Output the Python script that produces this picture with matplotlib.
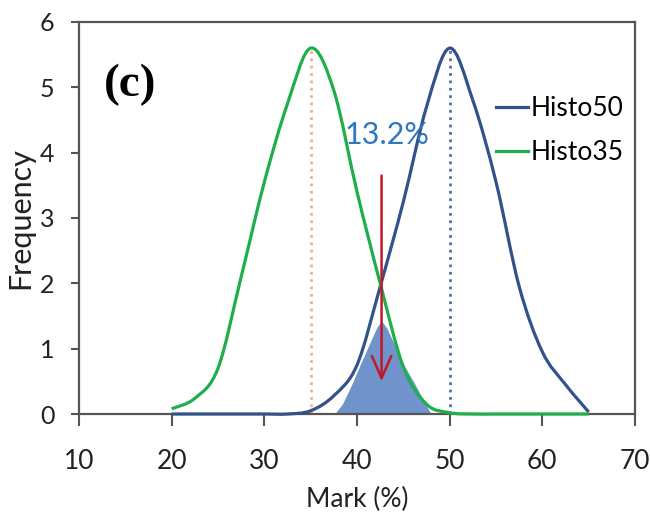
import numpy as np
import matplotlib
matplotlib.use("Agg")
import matplotlib.pyplot as plt
from matplotlib.path import Path
from matplotlib.patches import PathPatch, FancyArrowPatch

plt.rcParams['font.family'] = ['Lato', 'DejaVu Sans']

# values
mark = [20, 22.5, 25, 27.5, 30, 32.5, 35, 37.5, 40, 42.5, 45, 47.5, 50,
        52.5, 55, 57.5, 60, 62.5, 65]
histo50 = [0, 0, 0, 0, 0, 0, 0.05, 0.28, 0.75, 1.95, 3.25, 4.7, 5.6,
           4.8, 3.55, 1.95, 0.95, 0.45, 0.03]
histo35 = [0.08, 0.24, 0.7, 2.1, 3.55, 4.75, 5.6, 4.95, 3.4, 2.0, 0.72, 0.15, 0.02,
           0, 0, 0, 0, 0, 0]

# overlap area (shaded)
overlap_x = [37.3, 38.5, 39.5, 40.5, 41.5, 42.2, 42.7, 43.3, 44.2, 45.2, 46.3, 47.3, 48.3]
overlap_y = [-0.07, 0.15, 0.45, 0.78, 1.1, 1.32, 1.42, 1.3, 1.02, 0.72, 0.45, 0.18, -0.07]

means = [35, 50]
peak = 5.6
arrow_x = 42.65
arrow_top = 3.65
arrow_tip = 0.5
overlap_label = "13.2%"

blue = '#33518a'
green = '#1fae4c'


def smooth_path(xs, ys):
    # Excel-like smoothed line (Catmull-Rom as cubic bezier)
    pts = np.column_stack([xs, ys]).astype(float)
    verts = [pts[0]]
    codes = [Path.MOVETO]
    n = len(pts)
    for i in range(n - 1):
        p0 = pts[i - 1] if i > 0 else pts[i]
        p1 = pts[i]
        p2 = pts[i + 1]
        p3 = pts[i + 2] if i + 2 < n else pts[i + 1]
        c1 = p1 + (p2 - p0) / 6
        c2 = p2 - (p3 - p1) / 6
        verts += [c1, c2, p2]
        codes += [Path.CURVE4] * 3
    return Path(verts, codes)


fig, ax = plt.subplots(figsize=(6.5, 5.23), dpi=100)
fig.subplots_adjust(left=0.1215, right=0.977, bottom=0.2084, top=0.958)

ax.fill(overlap_x, overlap_y, color='#7193cb', zorder=1, lw=0)

ax.plot([means[0], means[0]], [0, peak], ls=':', color='#f4b183', lw=2, zorder=2)
ax.plot([means[1], means[1]], [0, peak], ls=':', color='#5a6ea6', lw=2, zorder=2)

ax.add_patch(PathPatch(smooth_path(mark, histo50), fill=False, ec=blue, lw=2.3,
                       transform=ax.transData, zorder=3, clip_on=False))
ax.add_patch(PathPatch(smooth_path(mark, histo35), fill=False, ec=green, lw=2.3,
                       transform=ax.transData, zorder=3, clip_on=False))

# legend proxies
ax.plot([], [], color=blue, lw=2.3, label='Histo50')
ax.plot([], [], color=green, lw=2.3, label='Histo35')

ax.add_patch(FancyArrowPatch((arrow_x, arrow_top), (arrow_x, arrow_tip),
                             arrowstyle='->,head_length=0.8,head_width=0.35',
                             mutation_scale=20, color='#c0182a', lw=1.8, zorder=4,
                             shrinkA=0, shrinkB=0))

ax.text(43.2, 4.27, overlap_label, color='#2f77c0', fontsize=22, ha='center', va='center')
ax.text(15.5, 5.04, '(c)', family='Liberation Serif', fontweight='bold', fontsize=34,
        ha='center', va='center')

ax.set_xlim(10, 70)
ax.set_ylim(0, 6)
ax.set_xticks(range(10, 71, 10))
ax.set_yticks(range(0, 7))
ax.tick_params(axis='x', labelsize=19, colors='#222222', width=1.5, length=8.5, pad=17)
ax.tick_params(axis='y', labelsize=18, colors='#222222', width=1.5, length=5.8, pad=12)
ax.tick_params(axis='both', color='#555555')
for s in ax.spines.values():
    s.set_color('#555555')
    s.set_linewidth(1.6)

ax.set_xlabel('Mark (%)', fontsize=19, color='#222222', labelpad=9)
ax.set_ylabel('Frequency', fontsize=22, color='#222222', labelpad=4)

ax.legend(loc='upper left', bbox_to_anchor=(0.75, 0.81), frameon=False, fontsize=19,
          handlelength=1.2, handletextpad=0.1, borderpad=0, borderaxespad=0,
          labelspacing=0.7)

fig.savefig('out.png', dpi=100)
